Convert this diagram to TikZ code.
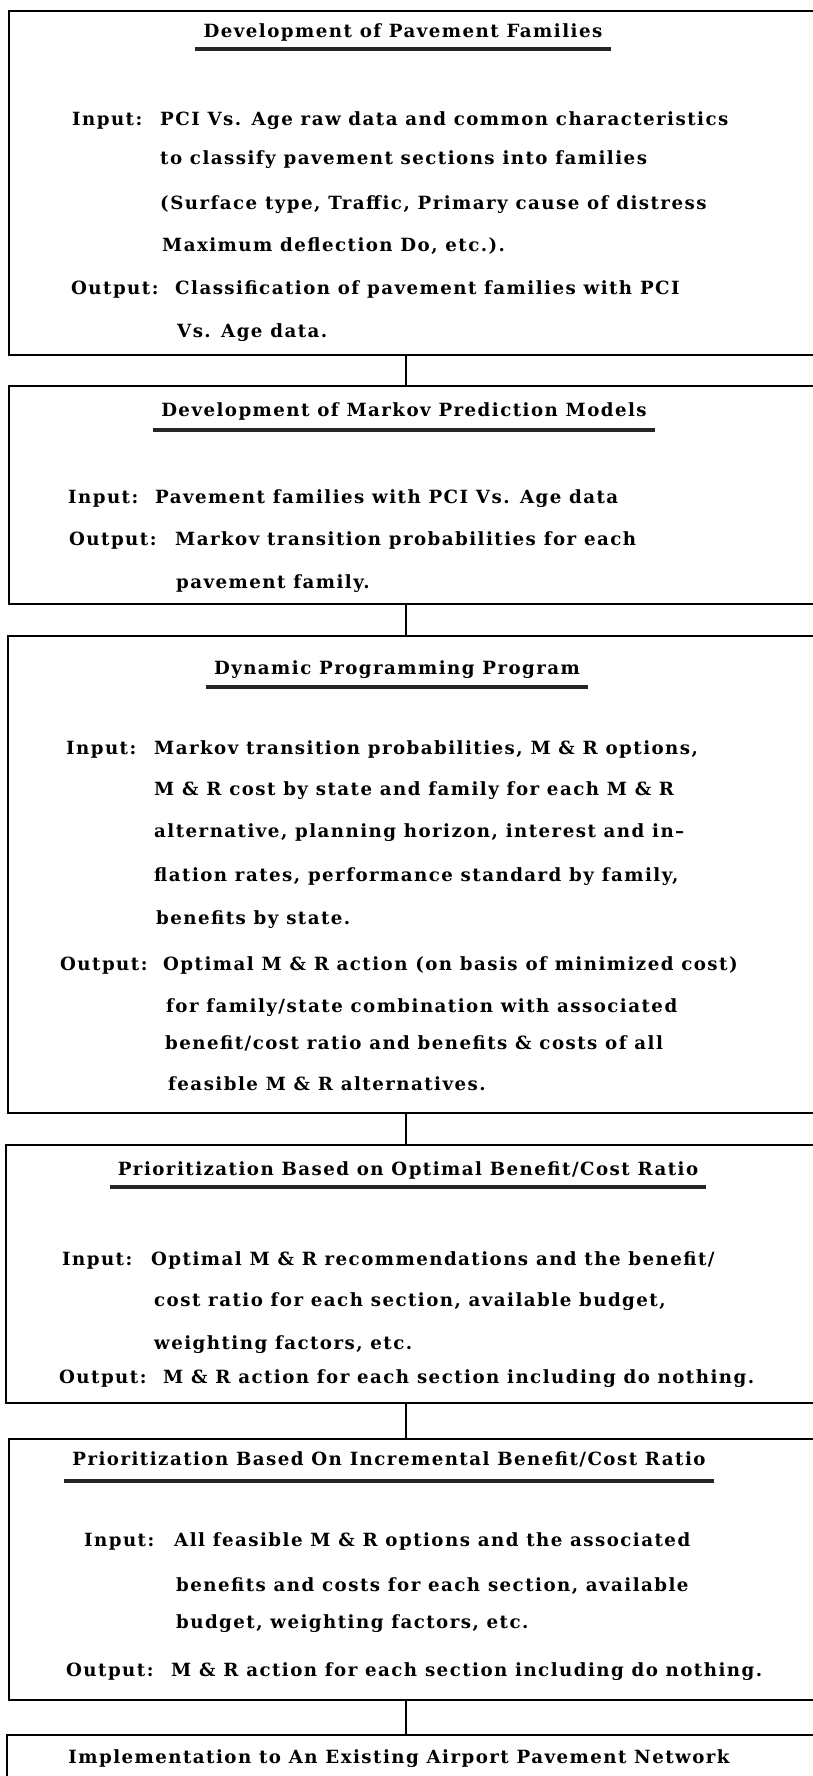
\documentclass[tikz,border=0pt]{standalone}
\usepackage{fontspec}
\setmainfont{DejaVu Serif}[LetterSpace=8]
\usepackage{tikz}

\begin{document}
\begin{tikzpicture}[x=1pt,y=-1pt,
  stage/.style={draw,line width=1.8pt,anchor=north west,minimum width=812pt,inner sep=0pt},
  head/.style={anchor=base,inner xsep=8pt,inner ysep=8pt,font=\fontsize{18.2}{22}\selectfont\bfseries},
  tag/.style={anchor=base west,inner sep=0pt,font=\fontsize{18.2}{22}\selectfont\bfseries},
  body/.style={anchor=base west,inner sep=0pt,font=\fontsize{18.2}{22}\selectfont\bfseries},
  uline/.style={line width=4pt,black!85},
  link/.style={line width=2.8pt}]

  \useasboundingbox[fill=white] (0,0) rectangle (812,1776);

  % the six stages
  \node[stage,minimum height=344pt] (b1) at (8,10) {};
  \node[stage,minimum height=218pt] (b2) at (8,385) {};
  \node[stage,minimum height=477pt] (b3) at (7,635) {};
  \node[stage,minimum height=258pt] (b4) at (5,1144) {};
  \node[stage,minimum height=261pt] (b5) at (8,1438) {};
  \node[stage,minimum height=80pt] (b6) at (6,1734) {};

  % stage 1
  \node[head] (t1) at (403,37.5) {Development of Pavement Families};
  \node[tag] (i1) at (72,125.5) {Input:};
  \node[body] (i1a) at (160,125.5) {PCI Vs. Age raw data and common characteristics};
  \node[body] (i1b) at (160,164.5) {to classify pavement sections into families};
  \node[body] (i1c) at (160,209.5) {(Surface type, Traffic, Primary cause of distress};
  \node[body] (i1d) at (162,251.5) {Maximum deflection Do, etc.).};
  \node[tag] (o1) at (71,294.5) {Output:};
  \node[body] (o1a) at (175,294.5) {Classification of pavement families with PCI};
  \node[body] (o1b) at (177,337.5) {Vs. Age data.};

  % stage 2
  \node[head,inner ysep=10pt] (t2) at (404,416) {Development of Markov Prediction Models};
  \node[tag] (i2) at (68,503.5) {Input:};
  \node[body] (i2a) at (155,503.5) {Pavement families with PCI Vs. Age data};
  \node[tag] (o2) at (69,545.5) {Output:};
  \node[body] (o2a) at (175,545.5) {Markov transition probabilities for each};
  \node[body] (o2b) at (176,588.5) {pavement family.};

  % stage 3
  \node[head] (t3) at (397,674.5) {Dynamic Programming Program};
  \node[tag] (i3) at (66,754.5) {Input:};
  \node[body] (i3a) at (154,754.5) {Markov transition probabilities, M \& R options,};
  \node[body] (i3b) at (154,795.5) {M \& R cost by state and family for each M \& R};
  \node[body] (i3c) at (154,837.5) {alternative, planning horizon, interest and in--};
  \node[body] (i3d) at (154,881.5) {flation rates, performance standard by family,};
  \node[body] (i3e) at (156,924.5) {benefits by state.};
  \node[tag] (o3) at (60,970.5) {Output:};
  \node[body] (o3a) at (163,970.5) {Optimal M \& R action (on basis of minimized cost)};
  \node[body] (o3b) at (166,1012.5) {for family/state combination with associated};
  \node[body] (o3c) at (165,1049.5) {benefit/cost ratio and benefits \& costs of all};
  \node[body] (o3d) at (168,1090.5) {feasible M \& R alternatives.};

  % stage 4
  \node[head] (t4) at (408,1175.5) {Prioritization Based on Optimal Benefit/Cost Ratio};
  \node[tag] (i4) at (62,1265.5) {Input:};
  \node[body] (i4a) at (151,1265.5) {Optimal M \& R recommendations and the benefit/};
  \node[body] (i4b) at (154,1306.5) {cost ratio for each section, available budget,};
  \node[body] (i4c) at (154,1349.5) {weighting factors, etc.};
  \node[tag] (o4) at (59,1383.5) {Output:};
  \node[body] (o4a) at (163,1383.5) {M \& R action for each section including do nothing.};

  % stage 5
  \node[head,inner ysep=14pt] (t5) at (389,1465.5) {Prioritization Based On Incremental Benefit/Cost Ratio};
  \node[tag] (i5) at (84,1546.5) {Input:};
  \node[body] (i5a) at (174,1546.5) {All feasible M \& R options and the associated};
  \node[body] (i5b) at (176,1591.5) {benefits and costs for each section, available};
  \node[body] (i5c) at (176,1628.5) {budget, weighting factors, etc.};
  \node[tag] (o5) at (66,1676.5) {Output:};
  \node[body] (o5a) at (171,1676.5) {M \& R action for each section including do nothing.};

  % stage 6
  \node[head] (t6) at (399,1763.5) {Implementation to An Existing Airport Pavement Network};

  \foreach \t in {t1,t2,t3,t4,t5}
    \draw[uline] (\t.south west) -- (\t.south east);

  \coordinate (axis) at (406,0);
  \path[link]
    (b1.south -| axis) edge (b2.north -| axis)
    (b2.south -| axis) edge (b3.north -| axis)
    (b3.south -| axis) edge (b4.north -| axis)
    (b4.south -| axis) edge (b5.north -| axis)
    (b5.south -| axis) edge (b6.north -| axis);
\end{tikzpicture}
\end{document}
